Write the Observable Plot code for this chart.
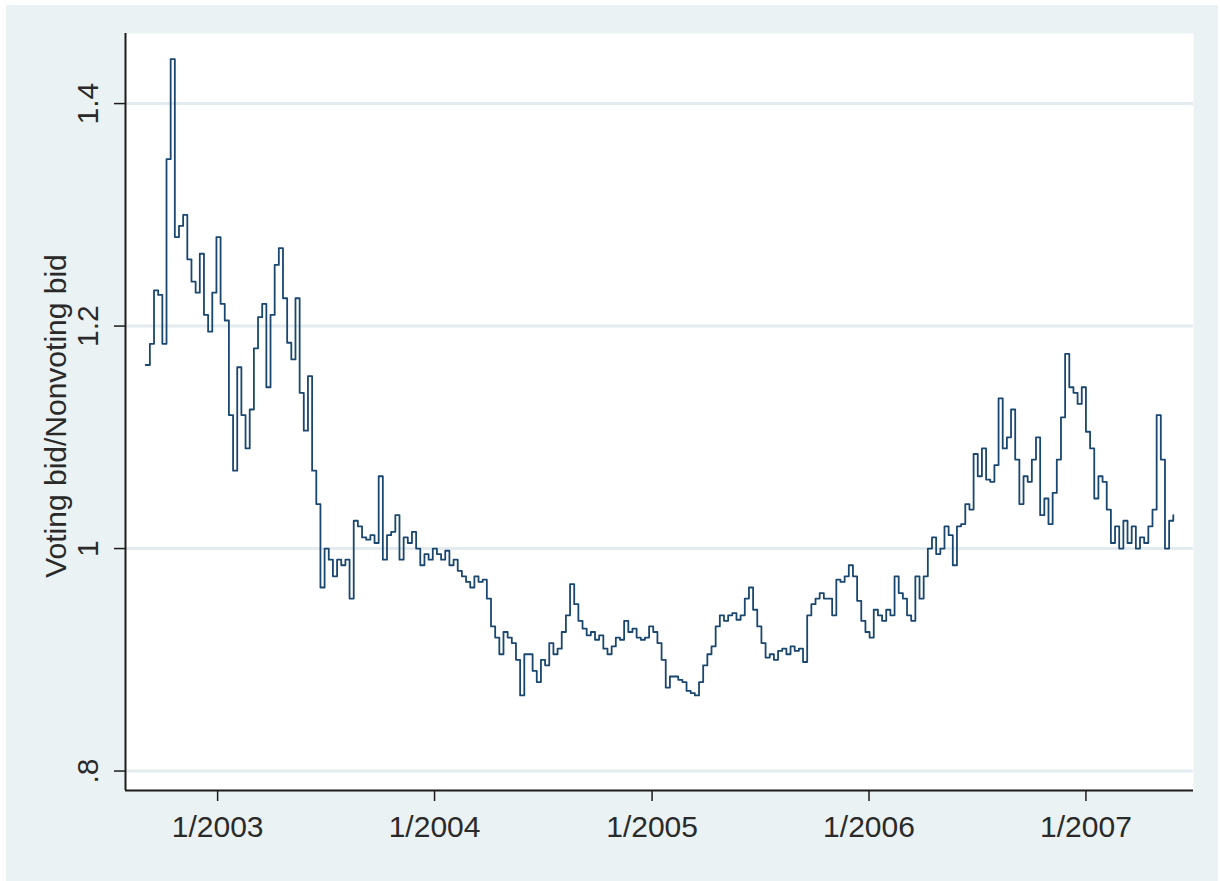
<!DOCTYPE html>
<html>
<head>
<meta charset="utf-8">
<script src="https://cdn.jsdelivr.net/npm/d3@7"></script>
<script src="https://cdn.jsdelivr.net/npm/@observablehq/plot@0.6"></script>
<style>
  html, body { margin: 0; padding: 0; background: #ffffff; }
  #panel { position: absolute; left: 6px; top: 5px; width: 1212px; height: 876px; background: #eaf2f3; }
  #chart { position: absolute; left: 0; top: 0; }
</style>
</head>
<body>
<div id="panel"></div>
<div id="chart"></div>
<script>
// Weekly readings (Monday of each week), voting bid / nonvoting bid
const start2002 = "2002-09-02";
const v2002 = [1.165,1.184,1.232,1.228,1.184,1.35,1.44,1.28,1.29,1.30,1.26,1.24,1.23,1.265,1.21,1.195,1.23,1.28];
const start2003 = "2003-01-06";
const v2003 = [1.22,1.205,1.12,1.07,1.163,1.12,1.09,1.125,1.18,1.208,
  1.22,1.145,1.21,1.255,1.27,1.225,1.185,1.17,1.225,1.14,
  1.106,1.155,1.07,1.04,0.965,1.0,0.99,0.975,0.99,0.985,
  0.99,0.955,1.025,1.02,1.01,1.008,1.012,1.005,1.065,0.99,
  1.012,1.015,1.03,0.99,1.01,1.005,1.015,1.0,0.985,0.995,
  0.99,1.0];
const start2004 = "2004-01-05";
const v2004 = [0.995,0.99,0.998,0.985,0.99,0.98,0.975,0.97,0.965,0.975,
  0.97,0.972,0.955,0.93,0.92,0.905,0.925,0.92,0.915,0.9,
  0.868,0.905,0.905,0.89,0.88,0.9,0.895,0.915,0.905,0.91,
  0.925,0.94,0.968,0.95,0.935,0.928,0.922,0.925,0.918,0.922,
  0.91,0.905,0.912,0.92,0.918,0.935,0.925,0.928,0.92,0.918,
  0.92,0.93];
const start2005 = "2005-01-03";
const v2005 = [0.925,0.915,0.9,0.875,0.885,0.885,0.882,0.88,0.872,0.87,
  0.868,0.88,0.895,0.905,0.912,0.93,0.94,0.935,0.94,0.942,
  0.936,0.94,0.955,0.965,0.945,0.93,0.915,0.902,0.905,0.9,
  0.908,0.91,0.905,0.912,0.908,0.91,0.898,0.94,0.95,0.955,
  0.96,0.955,0.955,0.94,0.972,0.97,0.975,0.985,0.975,0.953,
  0.935,0.925];
const start2006 = "2006-01-02";
const v2006 = [0.92,0.945,0.94,0.935,0.945,0.94,0.975,0.96,0.955,0.94,
  0.935,0.975,0.955,0.975,1.0,1.01,0.995,1.0,1.02,1.012,
  0.985,1.02,1.022,1.04,1.035,1.085,1.065,1.09,1.062,1.06,
  1.075,1.135,1.09,1.1,1.125,1.08,1.04,1.065,1.06,1.08,
  1.1,1.03,1.045,1.022,1.05,1.08,1.118,1.175,1.145,1.14,
  1.13,1.145];
const start2007 = "2007-01-01";
const v2007 = [1.105,1.09,1.045,1.065,1.06,1.035,1.005,1.02,1.0,1.025,
  1.005,1.02,1.0,1.01,1.005,1.02,1.035,1.12,1.08,1.0,
  1.025,1.03];

const yTicks = [0.8, 1, 1.2, 1.4];
const yTickLabels = [".8", "1", "1.2", "1.4"];
const xTicks = ["2003-01-01", "2004-01-01", "2005-01-01", "2006-01-01", "2007-01-01"];
const xTickLabels = ["1/2003", "1/2004", "1/2005", "1/2006", "1/2007"];
const xDomain = ["2002-07-30", "2007-07-01"];
const yDomain = [0.7825, 1.463];
const yTitle = "Voting bid/Nonvoting bid";

const segments = [[start2002, v2002], [start2003, v2003], [start2004, v2004],
                  [start2005, v2005], [start2006, v2006], [start2007, v2007]];
const data = segments.flatMap(([s, vals]) => {
  const d0 = new Date(s + "T00:00:00Z");
  return vals.map((v, i) => ({date: d3.utcMonday.offset(d0, i), value: v}));
});
const parse = s => new Date(s + "T00:00:00Z");

const font = "'Liberation Sans', Arial, Helvetica, sans-serif";
const ink = "#2a2a2a";

const chart = Plot.plot({
  width: 1220,
  height: 881,
  marginLeft: 125,
  marginTop: 33,
  marginRight: 27,
  marginBottom: 91,
  style: {background: "transparent", fontFamily: font, fontSize: "30px", color: ink},
  x: {type: "utc", domain: xDomain.map(parse)},
  y: {domain: yDomain},
  marks: [
    Plot.frame({fill: "white", stroke: null}),
    Plot.gridY(yTicks, {stroke: "#e4ebee", strokeOpacity: 1, strokeWidth: 3}),
    Plot.lineY(data, {x: "date", y: "value", curve: "step-after", stroke: "#1a476f", strokeWidth: 1.8}),
    Plot.ruleX([parse(xDomain[0])], {stroke: "#1c1c1c", strokeWidth: 2}),
    Plot.ruleY([yDomain[0]], {stroke: "#1c1c1c", strokeWidth: 2}),
    Plot.axisY(yTicks, {tickSize: 11, tickFormat: () => "", stroke: "#1c1c1c", strokeWidth: 1.5, label: null}),
    Plot.axisX(xTicks.map(parse), {tickSize: 11, tickFormat: () => "", stroke: "#1c1c1c", strokeWidth: 1.5, label: null}),
    Plot.text(yTicks, {y: d => d, text: (d, i) => yTickLabels[i], frameAnchor: "left", dx: -37, rotate: -90,
      textAnchor: "middle", lineAnchor: "middle", fontSize: 30, fill: ink}),
    Plot.text(xTicks, {x: d => parse(d), text: (d, i) => xTickLabels[i], frameAnchor: "bottom", dy: 37,
      lineAnchor: "middle", fontSize: 30, fill: ink}),
    Plot.text([yTitle], {text: d => d, frameAnchor: "left", dx: -69, dy: 4, rotate: -90,
      textAnchor: "middle", lineAnchor: "middle", fontSize: 30, fill: ink})
  ]
});
document.getElementById("chart").appendChild(chart);
</script>
</body>
</html>
